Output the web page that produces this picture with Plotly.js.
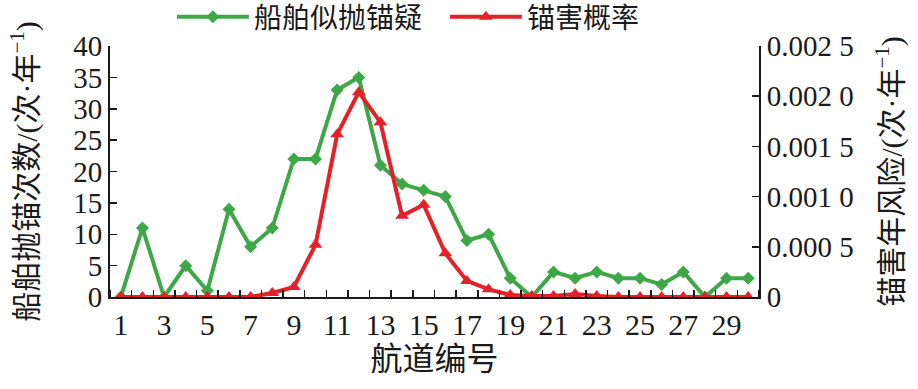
<!DOCTYPE html>
<html>
<head>
<meta charset="utf-8">
<script src="https://cdn.plot.ly/plotly-3.0.1.min.js"></script>
<style>html,body{margin:0;padding:0;background:#fff;}#chart{width:918px;height:389px;}</style>
</head>
<body>
<div id="chart"></div>
<script>
const channels = [1,2,3,4,5,6,7,8,9,10,11,12,13,14,15,16,17,18,19,20,21,22,23,24,25,26,27,28,29,30];
const anchorCounts = [0,11,0,5,1,14,8,11,22,22,33,35,21,18,17,16,9,10,3,0,4,3,4,3,3,2,4,0,3,3];
const damageRisk = [0,0,0,0,0,0,0,0.00004,0.0001,0.00052,0.00162,0.00204,0.00174,0.00081,0.00092,0.000435,0.00016,0.000076,0.00002,0.00001,0.00001,0.00003,0.00001,0,0,0,0,0,0,0];
const xTickLabels = ['1','3','5','7','9','11','13','15','17','19','21','23','25','27','29'];
const yTickVals = [0,5,10,15,20,25,30,35,40];
const y2TickVals = [0,0.0005,0.001,0.0015,0.002,0.0025];
const y2TickText = ['0','0.000 5','0.001 0','0.001 5','0.002 0','0.002 5'];

const serif = '"Liberation Serif", "Times New Roman", "Noto Sans CJK SC", serif';
const green = 'rgb(62,168,72)';
const red = 'rgb(228,32,40)';

const traces = [
  {x: channels, y: anchorCounts, name: '船舶似抛锚疑', type: 'scatter', mode: 'lines+markers',
   line: {color: green, width: 4}, marker: {symbol: 'diamond', size: 10, color: green}, yaxis: 'y'},
  {x: channels, y: damageRisk, name: '锚害概率', type: 'scatter', mode: 'lines+markers',
   line: {color: red, width: 4}, marker: {symbol: 'triangle-up', size: 12, color: red}, yaxis: 'y2'}
];

const minorTicks = [];
for (let i = 0; i <= channels.length; i++) minorTicks.push(channels[0] - 0.5 + i);

const layout = {
  width: 918, height: 389,
  margin: {l: 110, r: 159, t: 46, b: 92, autoexpand: false},
  paper_bgcolor: '#fff', plot_bgcolor: '#fff',
  font: {family: serif, color: '#1a1a1a', size: 28},
  showlegend: true,
  legend: {orientation: 'h', x: 0.516, xanchor: 'center', y: 1.115, yanchor: 'middle',
           font: {size: 28, family: serif}, itemwidth: 72, entrywidth: 186, entrywidthmode: 'pixels',
           tracegroupgap: 0, bgcolor: 'rgba(0,0,0,0)'},
  xaxis: {
    range: [0.5, 30.5], tickmode: 'array',
    tickvals: xTickLabels.map(Number), ticktext: xTickLabels,
    ticks: '', showgrid: false, zeroline: false,
    showline: true, linecolor: '#1a1a1a', linewidth: 2,
    tickfont: {size: 30, family: serif},
    minor: {tickmode: 'array', tickvals: minorTicks, ticks: 'inside', ticklen: 7, tickwidth: 1.5, tickcolor: '#1a1a1a', showgrid: false},
    title: {text: '航道编号', font: {size: 32, family: serif}, standoff: 8}
  },
  yaxis: {
    range: [0, 40], tickmode: 'array', tickvals: yTickVals,
    ticks: 'inside', ticklen: 7, tickwidth: 1.5, tickcolor: '#1a1a1a',
    showgrid: false, zeroline: false,
    showline: true, linecolor: '#1a1a1a', linewidth: 2,
    tickfont: {size: 29, family: serif},
    title: {text: '船舶抛锚次数/(次·年<sup>−1</sup>)', font: {size: 30, family: serif}, standoff: 27}
  },
  yaxis2: {
    range: [0, 0.0025], overlaying: 'y', side: 'right', anchor: 'x',
    tickmode: 'array', tickvals: y2TickVals, ticktext: y2TickText,
    ticks: 'inside', ticklen: 7, tickwidth: 1.5, tickcolor: '#1a1a1a',
    showgrid: false, zeroline: false,
    showline: true, linecolor: '#1a1a1a', linewidth: 2,
    tickfont: {size: 29, family: serif},
    title: {text: '锚害年风险/(次·年<sup>−1</sup>)', font: {size: 30, family: serif}, standoff: 28}
  }
};

Plotly.newPlot('chart', traces, layout, {staticPlot: true, displayModeBar: false});
</script>
</body>
</html>
